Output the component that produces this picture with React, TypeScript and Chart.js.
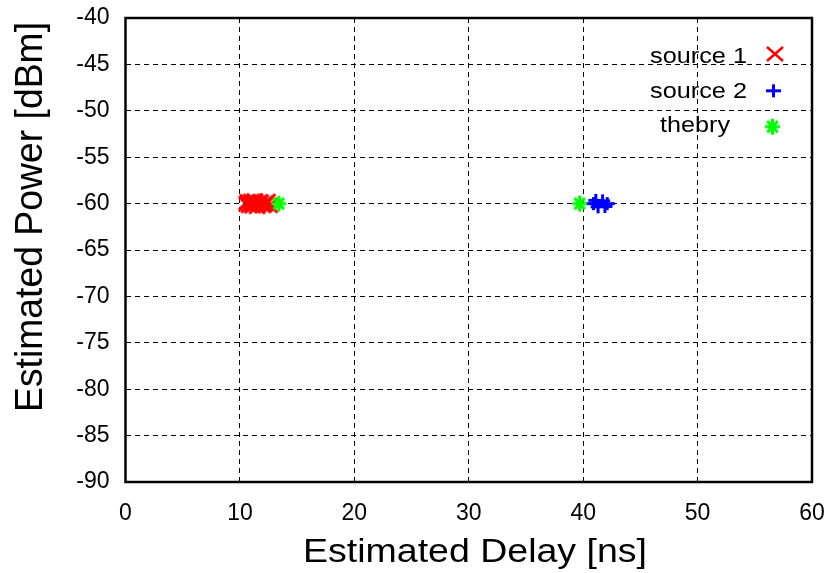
import React, { useEffect, useRef } from "react";
import { Chart, registerables } from "chart.js";

Chart.register(...registerables);

// ---- data ----
const xTickValues = [0, 10, 20, 30, 40, 50, 60];
const yTickValues = [-40, -45, -50, -55, -60, -65, -70, -75, -80, -85, -90];

const source1Delay = [10.6, 10.7, 10.8, 11.0, 11.1, 11.2, 11.3, 11.5, 11.6, 11.7, 11.8, 12.0, 12.1, 12.2, 12.4, 12.6];
const source1Power = [-60.0, -59.8, -60.2, -59.75, -60.25, -60.0, -59.7, -60.3, -60.05, -59.85, -59.8, -60.2, -60.1, -60.0, -59.75, -60.2];

const source2Delay = [40.9, 41.1, 41.3, 41.7, 41.9, 42.1];
const source2Power = [-60.0, -59.65, -60.35, -59.7, -60.3, -60.0];

const theoryDelay = [13.4, 39.7];
const theoryPower = [-60, -60];

const legendLabels = ["source 1", "source 2", "thebry"];
const xTitle = "Estimated Delay [ns]";
const yTitle = "Estimated Power [dBm]";

const FONT = '"Liberation Sans", Arial, sans-serif';

type Kind = "x" | "plus" | "star";

function makeMarker(kind: Kind, color: string, w: number, h: number, lw: number) {
  const pad = 2;
  const c = document.createElement("canvas");
  c.width = w + pad * 2;
  c.height = h + pad * 2;
  const ctx = c.getContext("2d")!;
  ctx.strokeStyle = color;
  ctx.lineWidth = lw;
  ctx.lineCap = "butt";
  ctx.beginPath();
  if (kind === "x" || kind === "star") {
    const ix = kind === "star" ? w * 0.15 : 0;
    const iy = kind === "star" ? h * 0.15 : 0;
    ctx.moveTo(pad + ix, pad + iy);
    ctx.lineTo(pad + w - ix, pad + h - iy);
    ctx.moveTo(pad + w - ix, pad + iy);
    ctx.lineTo(pad + ix, pad + h - iy);
  }
  if (kind === "plus" || kind === "star") {
    ctx.moveTo(pad + w / 2, pad);
    ctx.lineTo(pad + w / 2, pad + h);
    ctx.moveTo(pad, pad + h / 2);
    ctx.lineTo(pad + w, pad + h / 2);
  }
  ctx.stroke();
  return c;
}

function toPoints(xs: number[], ys: number[]) {
  return xs.map((x, i) => ({ x, y: ys[i] }));
}

function drawFitted(
  ctx: CanvasRenderingContext2D,
  text: string,
  font: string,
  x: number,
  y: number,
  width: number
) {
  ctx.save();
  ctx.font = font;
  const m = ctx.measureText(text).width;
  ctx.translate(x, y);
  ctx.scale(width / m, 1);
  ctx.textAlign = "left";
  ctx.textBaseline = "alphabetic";
  ctx.fillText(text, 0, 0);
  ctx.restore();
}

function zeroPad(s: any) {
  s.paddingTop = 0;
  s.paddingBottom = 0;
  s.paddingLeft = 0;
  s.paddingRight = 0;
}

export default function App() {
  const ref = useRef<HTMLCanvasElement | null>(null);

  useEffect(() => {
    document.body.style.margin = "0";
    const canvas = ref.current;
    if (!canvas) return;

    const redX = makeMarker("x", "#ff0000", 16, 14, 3);
    const bluePlus = makeMarker("plus", "#0000ff", 15, 13, 3);
    const greenStar = makeMarker("star", "#00ff00", 15, 16, 3);
    const legendRedX = makeMarker("x", "#ff0000", 16, 14, 2.5);
    const legendMarkers = [legendRedX, bluePlus, greenStar];

    const overlay = {
      id: "overlay",
      afterDraw(chart: any) {
        const ctx: CanvasRenderingContext2D = chart.ctx;
        const a = chart.chartArea;
        ctx.save();
        // frame
        ctx.strokeStyle = "#000";
        ctx.lineWidth = 2.5;
        ctx.setLineDash([]);
        ctx.strokeRect(a.left, a.top, a.right - a.left, a.bottom - a.top);

        ctx.fillStyle = "#000";
        // legend
        const lf = `22px ${FONT}`;
        drawFitted(ctx, legendLabels[0], lf, 650, 63, 97);
        drawFitted(ctx, legendLabels[1], lf, 650, 97.5, 97);
        drawFitted(ctx, legendLabels[2], lf, 660, 131.5, 70);
        const mpos = [
          [775, 54],
          [773.5, 90.8],
          [772.5, 126.7],
        ];
        legendMarkers.forEach((m, i) => {
          ctx.drawImage(m, mpos[i][0] - m.width / 2, mpos[i][1] - m.height / 2);
        });

        // x title
        drawFitted(ctx, xTitle, `33px ${FONT}`, 303, 562, 344);

        // y title
        ctx.save();
        ctx.translate(42, 412);
        ctx.rotate(-Math.PI / 2);
        ctx.font = `33px ${FONT}`;
        const m = ctx.measureText(yTitle).width;
        ctx.scale(390 / m, 1.15);
        ctx.textAlign = "left";
        ctx.textBaseline = "alphabetic";
        ctx.fillText(yTitle, 0, 0);
        ctx.restore();

        ctx.restore();
      },
    };

    const chart = new Chart(canvas, {
      type: "scatter",
      data: {
        datasets: [
          {
            label: legendLabels[0],
            data: toPoints(source1Delay, source1Power),
            pointStyle: redX as any,
            order: 2,
          },
          {
            label: legendLabels[1],
            data: toPoints(source2Delay, source2Power),
            pointStyle: bluePlus as any,
            order: 1,
          },
          {
            label: legendLabels[2],
            data: toPoints(theoryDelay, theoryPower),
            pointStyle: greenStar as any,
            order: 0,
          },
        ],
      },
      options: {
        animation: false,
        responsive: false,
        maintainAspectRatio: false,
        devicePixelRatio: 1,
        layout: { padding: { top: 18, right: 20, left: 0, bottom: 0 } },
        plugins: {
          legend: { display: false },
          tooltip: { enabled: false },
          title: { display: false },
        },
        scales: {
          x: {
            type: "linear",
            min: 0,
            max: 60,
            afterBuildTicks: (s: any) => {
              s.ticks = xTickValues.map((v) => ({ value: v }));
            },
            afterFit: (s: any) => {
              s.height = 91;
              zeroPad(s);
            },
            ticks: {
              color: "#000",
              font: { family: FONT, size: 23 },
              padding: 18,
              maxRotation: 0,
            },
            grid: { color: "#000", lineWidth: 1, drawTicks: false },
            border: { display: false, dash: [5, 4] },
          },
          y: {
            type: "linear",
            min: -90,
            max: -40,
            afterBuildTicks: (s: any) => {
              s.ticks = yTickValues.map((v) => ({ value: v }));
            },
            afterFit: (s: any) => {
              s.width = 125.5;
              zeroPad(s);
            },
            ticks: {
              color: "#000",
              font: { family: FONT, size: 23 },
              padding: 16,
            },
            grid: { color: "#000", lineWidth: 1, drawTicks: false },
            border: { display: false, dash: [5, 4] },
          },
        },
      },
      plugins: [overlay],
    });

    return () => chart.destroy();
  }, []);

  return (
    <div style={{ position: "relative", width: 832, height: 573, background: "#fff" }}>
      <canvas ref={ref} width={832} height={573} style={{ display: "block", width: 832, height: 573 }} />
    </div>
  );
}
